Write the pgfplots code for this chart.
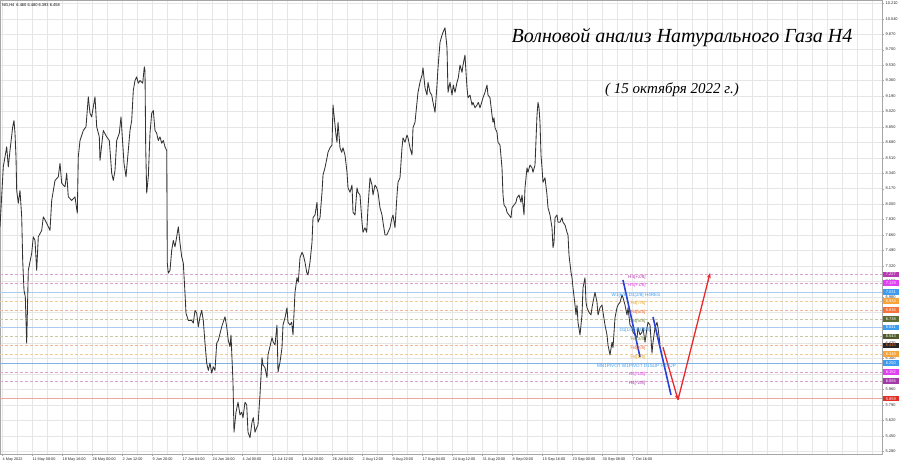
\documentclass[border=0pt]{standalone}
\usepackage{fontspec}
\setmainfont{Liberation Sans}
\newfontfamily\titlefont{Liberation Serif}
\usepackage{pgfplots}
\pgfplotsset{compat=1.18}
\usetikzlibrary{arrows.meta}

\definecolor{gridgray}{HTML}{E6E6E6}
\definecolor{lvpink}{HTML}{DDA0D0}
\definecolor{lvblue}{HTML}{A8CBEF}
\definecolor{lvblue2}{HTML}{7FB2E5}
\definecolor{lvorange}{HTML}{F2CC99}
\definecolor{lvorange2}{HTML}{EDB99A}
\definecolor{lvtan}{HTML}{C9C6A6}
\definecolor{lvred}{HTML}{EBA69E}
\definecolor{tagmagA}{HTML}{B83AB0}
\definecolor{tagmagB}{HTML}{E040F0}
\definecolor{tagblue}{HTML}{3D9BF0}
\definecolor{tagorange}{HTML}{F7A43A}
\definecolor{tagorred}{HTML}{F4733A}
\definecolor{tagolive}{HTML}{5F6B35}
\definecolor{tagoliveB}{HTML}{4F5A2A}
\definecolor{tagred}{HTML}{E0302A}
\definecolor{tagpurple}{HTML}{A33AA8}
\definecolor{lbolive}{HTML}{7C8A45}
\definecolor{lbgold}{HTML}{E8A628}
\definecolor{wblue}{HTML}{2840D8}
\definecolor{wred}{HTML}{E8282A}

\begin{document}
\begin{tikzpicture}
\path[use as bounding box] (0,0) rectangle (900pt,468pt);
\begin{axis}[
  at={(0pt,14pt)}, anchor=south west,
  width=882pt, height=454pt, scale only axis,
  xmin=0, xmax=882, ymin=5.250, ymax=10.246,
  clip=false,
  axis line style={gray!70, line width=0.5pt},
  xtick={2,32,...,632},
  xticklabels={4 May 2022, 11 May 08:00, 18 May 16:00, 26 May 00:00, 2 Jun 12:00, 9 Jun 20:00, 17 Jun 04:00, 24 Jun 16:00, 4 Jul 00:00, 11 Jul 12:00, 18 Jul 20:00, 26 Jul 04:00, 2 Aug 12:00, 9 Aug 20:00, 17 Aug 04:00, 24 Aug 12:00, 31 Aug 20:00, 8 Sep 00:00, 15 Sep 16:00, 23 Sep 00:00, 30 Sep 08:00, 7 Oct 16:00},
  minor xtick={2,17,...,872},
  ytick={10.21,10.04,9.87,9.70,9.53,9.36,9.19,9.02,8.85,8.68,8.51,8.34,8.17,8.00,7.83,7.66,7.49,7.32,7.15,6.98,6.81,6.64,6.47,6.30,6.13,5.96,5.79,5.62,5.45,5.28},
  xtick pos=bottom, ytick pos=right, yticklabel pos=right,
  tick align=outside, major tick length=2pt, minor tick length=0pt,
  tick style={gray!70},
  xmajorgrids, xminorgrids, ymajorgrids,
  grid style={gridgray, line width=0.4pt},
  minor grid style={gridgray, line width=0.4pt},
  scaled y ticks=false,
  /pgf/number format/assume math mode=true,
  yticklabel style={/pgf/number format/.cd, fixed, fixed zerofill, precision=3, /tikz/.cd, anchor=west, inner sep=1.5pt, font=\fontsize{3.9}{4.5}\selectfont},
  xticklabel style={anchor=north west, inner sep=1.5pt, xshift=-1pt, font=\fontsize{3.8}{4.5}\selectfont},
  ticklabel style={text=black!85},
]
% Murrey / pivot levels
\addplot[lvpink, dash pattern=on 3pt off 2pt, line width=0.5pt] coordinates {(0,7.227) (882,7.227)};
\addplot[lvpink, dash pattern=on 3pt off 2pt, line width=0.5pt] coordinates {(0,7.129) (882,7.129)};
\addplot[lvblue, line width=0.6pt] coordinates {(0,7.031) (882,7.031)};
\addplot[lvorange, dash pattern=on 3pt off 2pt, line width=0.5pt] coordinates {(0,6.934) (882,6.934)};
\addplot[lvorange2, dash pattern=on 3pt off 2pt, line width=0.5pt] coordinates {(0,6.836) (882,6.836)};
\addplot[lvtan, dash pattern=on 3pt off 2pt, line width=0.5pt] coordinates {(0,6.738) (882,6.738)};
\addplot[lvblue, line width=0.6pt] coordinates {(0,6.641) (882,6.641)};
\addplot[lvtan, dash pattern=on 3pt off 2pt, line width=0.5pt] coordinates {(0,6.543) (882,6.543)};
\addplot[lvorange2, dash pattern=on 3pt off 2pt, line width=0.5pt] coordinates {(0,6.445) (882,6.445)};
\addplot[lvorange, dash pattern=on 3pt off 2pt, line width=0.5pt] coordinates {(0,6.348) (882,6.348)};
\addplot[lvblue2, line width=0.7pt] coordinates {(0,6.250) (882,6.250)};
\addplot[lvpink, dash pattern=on 3pt off 2pt, line width=0.5pt] coordinates {(0,6.152) (882,6.152)};
\addplot[lvpink, dash pattern=on 3pt off 2pt, line width=0.5pt] coordinates {(0,6.055) (882,6.055)};
\addplot[lvred, line width=0.7pt] coordinates {(0,5.859) (882,5.859)};

% NG H4 price path
\addplot[black!80, line width=0.85pt, line join=round] table {
x p
0 7.75
3.3 8.41
6.7 8.63
8.3 8.41
10 8.59
12.7 8.85
14 8.92
15 8.78
16 8.52
16.7 8.15
18.3 8.01
20 8.15
21.7 7.86
22.7 7.38
24 7.05
25.3 6.98
26.7 6.47
28.3 7.27
31.7 7.46
33.3 7.64
35 7.60
36.7 7.27
38.3 7.64
41.7 7.71
43.3 7.86
46.7 7.79
50 7.71
51.7 8.04
55 8.26
58.3 8.30
60 8.45
61.7 8.23
65 8.19
66.7 8.34
68.3 8.08
71.7 8.04
75 8.08
77.3 7.90
78.3 8.52
80 8.70
83.3 8.81
86 8.85
88.3 9.18
90 9.00
91.7 8.96
93.3 9.07
95 9.18
96.7 8.85
99.3 8.74
100 8.48
103.3 8.81
106.7 8.74
109.3 8.70
111.7 8.34
113.3 8.26
115 8.37
116.7 8.70
119.3 8.78
121 8.96
122.7 8.67
124 8.45
126 8.30
128.3 8.59
130 8.81
131.7 8.92
133.3 9.25
135 9.36
136.7 9.40
138.3 9.33
140 9.36
142.7 9.33
144.3 9.51
145 9.47
145.7 8.63
146.7 8.12
148.3 8.30
150 8.78
151.7 9.00
153.3 9.03
155 8.81
156.7 8.78
158.3 8.70
160 8.74
161.7 8.67
163.3 8.70
165 8.63
166.7 8.59
167.3 7.35
168.3 7.24
170 7.27
171.7 7.49
173.3 7.60
175 7.53
176.7 7.64
178.3 7.75
180 7.57
181.7 7.42
183.3 7.35
185 7.02
186 6.80
188.3 6.72
191.7 6.72
193.3 6.69
195 6.83
196.7 6.80
198.3 6.65
200 6.76
201.7 6.83
203.3 6.72
205 6.47
206.7 6.25
208.3 6.17
210 6.25
211.7 6.14
213.3 6.21
215 6.17
216.7 6.47
218.3 6.50
221.7 6.65
225 6.76
226.7 6.65
228.3 6.50
230 6.43
231 6.56
233 6.04
234 5.49
236 5.71
238 5.82
240 5.68
241.7 5.71
243 5.65
245 5.82
246.7 5.79
248 5.49
250 5.43
252 5.60
253.3 5.65
255 5.49
256.7 5.54
258 5.57
260 5.90
262 6.31
263 6.23
265 6.20
267 6.09
268 6.34
272 6.53
273.3 6.48
275 6.45
277 6.67
278 6.15
280 6.26
282 6.42
283 6.67
285 6.75
287 6.86
288 6.70
290 6.67
291.7 6.70
293 6.56
295 7.03
297 7.19
298.3 7.14
300 7.41
302 7.47
303.3 7.44
305 7.36
306.7 7.25
308 7.22
310 7.36
312 7.58
313 7.85
315 7.88
317 8.02
318 7.80
320 7.85
322 8.13
323 8.32
325 8.40
327 8.51
328 8.57
330 8.62
332 8.65
333 9.09
334.3 8.95
336 8.76
337 8.68
338 8.90
340 8.62
341.7 8.57
343 8.62
345 8.54
347 8.35
348 8.18
350 8.13
352 8.21
353 7.91
355 7.88
357 8.18
358 8.13
360 8.10
362 7.80
363 7.69
365 7.74
366.7 7.69
368 7.96
370 8.29
372 8.21
373 8.10
375 8.21
376.7 8.18
378 8.13
380 7.96
382 7.88
383 7.80
385 7.66
386.7 7.66
388 7.69
390 7.74
392 7.85
393 7.88
395 7.74
397 8.10
398 8.24
400 8.29
402 8.62
403 8.73
405 8.68
407 8.76
408 8.73
410 8.62
412 8.54
413 8.84
415 8.90
417 9.12
418 9.23
420 9.34
422 9.42
423 9.50
425 9.28
427 9.20
428 9.34
430 9.23
431.7 9.20
433 9.12
435 9.01
437 9.31
438 9.50
440 9.78
442 9.86
443 9.89
445 9.94
447 9.72
448 9.23
450 9.34
452 9.20
453.3 9.31
455 9.23
457 9.34
458.3 9.39
460 9.53
462 9.45
463 9.53
465 9.64
466 9.45
467 9.28
468 9.17
470 9.20
472 9.09
473 9.12
475 9.06
477 9.09
478.3 9.12
480 9.06
481.7 9.12
483 9.17
485 9.23
487 9.31
488 9.20
490 9.17
492 8.98
493 8.90
494 8.95
495 8.84
497 8.79
498 8.68
500 8.65
502 8.40
503 8.10
504 7.99
506 7.96
507 7.91
509 7.88
511 7.85
512 7.96
514 7.99
516 8.02
517 8.07
519 8.10
521 8.02
522 8.10
524 7.88
525 8.18
527 8.40
528 8.35
530 8.43
532 8.40
533 8.35
535 8.43
537 8.98
538 9.12
539 9.06
540 8.90
541 8.54
542 8.40
543 8.24
545 8.29
547 8.10
548 7.96
550 7.88
552 7.74
553 7.52
554 7.58
555 7.85
557 7.88
558 7.80
560 7.80
562 7.85
563 7.80
565 7.77
567 7.69
568 7.66
569 7.44
571 7.25
572 7.19
573 7.08
575 6.89
576 6.78
577 6.89
578 6.70
580 6.56
582 6.78
583 7.08
585 7.19
586 6.92
587 6.86
589 6.81
591 6.78
592 6.86
593 6.92
595 7.03
597 6.92
598 6.78
600 6.86
602 6.89
603 6.81
605 6.67
607 6.56
608 6.45
610 6.34
612 6.48
613 6.42
615 6.75
617 6.86
618 6.89
620 6.92
622 7.00
623 6.97
625 6.89
627 6.78
628 6.86
630 6.67
632 6.64
633 6.59
635 6.56
637 6.53
638 6.64
640 6.56
642 6.59
643 6.64
645 6.48
647 6.64
648 6.70
650 6.67
652 6.36
653 6.48
655 6.64
657 6.70
658 6.64
660 6.46
};

% wave markup
\addplot[wblue, line width=1.6pt] coordinates {(623,7.165) (640,6.318)};
\addplot[wblue, line width=1.6pt] coordinates {(653,6.758) (671,5.900)};
\addplot[wred, line width=1.3pt, -{Stealth[length=5pt,width=4pt]}] coordinates {(663,6.424) (678,5.845)};
\addplot[wred, line width=1.3pt, -{Stealth[length=5pt,width=4pt]}] coordinates {(678,5.845) (710,7.240)};

% level captions
\begin{scope}[every node/.style={font=\fontsize{4.6}{5}\selectfont, inner sep=0pt}]
\node[text=tagmagA] at (axis cs:637,7.196) {H4[+2/8]};
\node[text=tagmagB] at (axis cs:637,7.108) {H4[+1/8]};
\node[text=tagblue] at (axis cs:636,6.998) {W1[6/8] D1[2/8] H4RES};
\node[text=lbgold] at (axis cs:638,6.910) {H4[7/8]};
\node[text=tagorred] at (axis cs:638,6.811) {H4[6/8]};
\node[text=lbolive] at (axis cs:638,6.712) {H4[5/8]};
\node[text=tagblue] at (axis cs:635,6.613) {D1[1/8] H4[4/8]};
\node[text=lbolive] at (axis cs:638,6.514) {H4[3/8]};
\node[text=tagorred] at (axis cs:638,6.415) {H4[2/8]};
\node[text=lbgold] at (axis cs:638,6.316) {H4[1/8]};
\node[text=tagblue] at (axis cs:636.5,6.217) {MN1PIVOT W1PIVOT D1SUP H4SUP};
\node[text=tagmagB] at (axis cs:637,6.129) {H4[-1/8]};
\node[text=tagpurple] at (axis cs:637,6.030) {H4[-2/8]};
\end{scope}

\node[anchor=west, font=\fontsize{4}{5}\selectfont, inner sep=0pt] at (axis cs:2,10.19) {NG,H4\enspace 6.460 6.480 6.393 6.458};
\node[font=\titlefont\itshape\fontsize{20}{24}\selectfont] at (axis cs:682,9.828) {Волновой анализ Натурального Газа Н4};
\node[font=\titlefont\itshape\fontsize{15}{18}\selectfont] at (axis cs:672,9.256) {( 15 октября 2022 г.)};

\coordinate (t1) at (axis cs:882,7.227);
\coordinate (t2) at (axis cs:882,7.129);
\coordinate (t3) at (axis cs:882,7.031);
\coordinate (t4) at (axis cs:882,6.934);
\coordinate (t5) at (axis cs:882,6.836);
\coordinate (t6) at (axis cs:882,6.738);
\coordinate (t7) at (axis cs:882,6.641);
\coordinate (t8) at (axis cs:882,6.543);
\coordinate (t9) at (axis cs:882,6.445);
\coordinate (t10) at (axis cs:882,6.348);
\coordinate (t11) at (axis cs:882,6.250);
\coordinate (t12) at (axis cs:882,6.152);
\coordinate (t13) at (axis cs:882,6.055);
\coordinate (t14) at (axis cs:882,5.859);
\end{axis}

\begin{scope}[every node/.style={anchor=west, xshift=0.6pt, minimum width=16pt, minimum height=5.6pt, inner sep=0pt, text=white, font=\fontsize{4}{4.5}\selectfont}]
\node[fill=tagmagA] at (t1) {7.227};
\node[fill=tagmagB] at (t2) {7.129};
\node[fill=tagblue] at (t3) {7.031};
\node[fill=tagorange] at (t4) {6.934};
\node[fill=tagorred] at (t5) {6.836};
\node[fill=tagolive] at (t6) {6.738};
\node[fill=tagblue] at (t7) {6.641};
\node[fill=tagoliveB] at (t8) {6.543};
\node[fill=black!85, text=tagorred] at (t9) {6.445};
\node[fill=tagorange] at (t10) {6.348};
\node[fill=tagblue] at (t11) {6.250};
\node[fill=tagmagB] at (t12) {6.152};
\node[fill=tagpurple] at (t13) {6.055};
\node[fill=tagred] at (t14) {5.859};
\end{scope}
\end{tikzpicture}
\end{document}
